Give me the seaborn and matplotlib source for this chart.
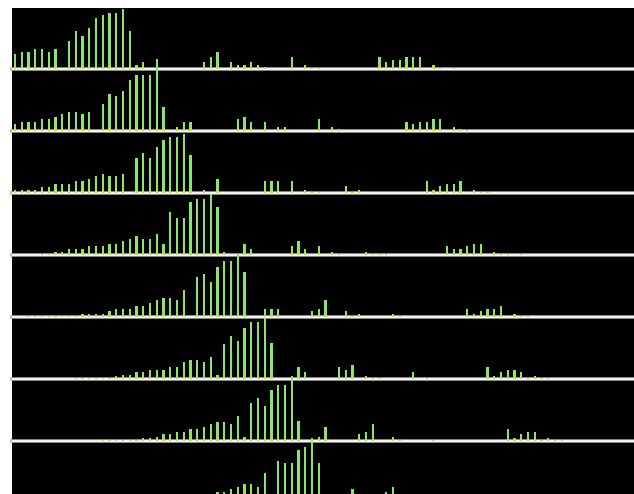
import numpy as np
import pandas as pd
import seaborn as sns
import matplotlib.pyplot as plt

# bin index -> stem height (px-like units), one pair of lists per row
row1_bins = [0, 1, 2, 3, 4, 5, 6, 8, 9, 10, 11, 12, 13, 14, 15, 16, 17, 18, 19, 28, 29, 30, 32, 33, 34, 35, 36, 37,
             41, 43, 44, 45, 54, 55, 56, 57, 58, 59, 60, 62, 63, 65]
row1_heights = [15, 17, 17, 20, 20, 17, 20, 28, 38, 33, 41, 51, 54, 56, 56, 60, 38, 4, 7, 7, 12, 17, 7, 4, 4, 7, 4, 2,
                12, 4, 1, 1, 12, 7, 9, 9, 12, 12, 12, 4, 1, 1]

row2_bins = [0, 1, 2, 3, 4, 5, 6, 7, 8, 9, 10, 11, 13, 14, 15, 16, 17, 18, 19, 20, 21, 22, 24, 25, 26, 33, 34, 35, 37,
             39, 40, 45, 47, 48, 58, 59, 60, 61, 62, 63, 65, 66, 67]
row2_heights = [7, 9, 9, 9, 12, 12, 14, 17, 19, 19, 17, 19, 27, 37, 35, 40, 51, 56, 56, 56, 72, 24, 4, 9, 9, 12, 14, 9, 9,
                4, 4, 12, 4, 2, 9, 7, 9, 9, 12, 12, 4, 2, 1]

row3_bins = [0, 1, 2, 3, 4, 5, 6, 7, 8, 9, 10, 11, 12, 13, 14, 15, 16, 18, 19, 20, 21, 22, 23, 24, 25, 26, 28, 30, 37,
             38, 39, 41, 43, 44, 45, 49, 50, 51, 61, 62, 63, 64, 65, 66, 68, 69, 70]
row3_heights = [3, 3, 3, 3, 6, 6, 9, 9, 9, 12, 12, 14, 17, 19, 17, 17, 19, 35, 40, 35, 46, 53, 56, 56, 59, 38, 3, 14, 12,
                12, 12, 12, 3, 1, 1, 7, 1, 3, 12, 3, 7, 9, 9, 12, 3, 1, 1]

row4_bins = [4, 5, 6, 7, 8, 9, 10, 11, 12, 13, 14, 15, 16, 17, 18, 19, 20, 21, 22, 23, 24, 25, 26, 27, 28, 29, 30, 31,
             34, 35, 41, 42, 43, 45, 47, 48, 52, 53, 54, 55, 64, 65, 66, 67, 68, 69, 71, 72, 73, 75]
row4_heights = [1, 1, 3, 3, 6, 6, 6, 9, 9, 9, 11, 11, 14, 16, 19, 16, 16, 21, 11, 43, 37, 37, 53, 56, 56, 61, 48, 3,
                11, 6, 9, 14, 6, 9, 3, 1, 3, 1, 1, 1, 9, 6, 6, 9, 11, 11, 3, 1, 1, 1]

row5_bins = [2, 3, 4, 5, 6, 7, 8, 9, 10, 11, 12, 13, 14, 15, 16, 17, 18, 19, 20, 21, 22, 23, 24, 25, 27, 28, 29, 30, 31,
             32, 33, 34, 37, 38, 39, 44, 45, 46, 49, 50, 51, 56, 57, 67, 68, 69, 70, 71, 72, 74, 75, 76]
row5_heights = [1, 1, 1, 1, 1, 1, 1, 1, 3, 3, 3, 3, 6, 8, 8, 8, 11, 11, 14, 17, 19, 19, 17, 27, 40, 43, 35, 50, 56,
                56, 63, 45, 8, 8, 8, 6, 8, 17, 6, 1, 3, 3, 1, 8, 3, 6, 8, 8, 11, 3, 1, 1]

row6_bins = [9, 10, 11, 12, 13, 14, 15, 16, 17, 18, 19, 20, 21, 22, 23, 24, 25, 26, 27, 28, 29, 30, 31, 32, 33, 34, 35,
             36, 37, 38, 41, 42, 43, 48, 49, 50, 52, 53, 54, 59, 61, 70, 71, 72, 73, 74, 75, 76, 77, 78, 79]
row6_heights = [1, 1, 1, 1, 1, 1, 3, 4, 4, 7, 7, 9, 9, 9, 12, 12, 17, 19, 19, 17, 22, 4, 35, 43, 38, 51, 57, 57, 61, 36,
                3, 12, 7, 12, 9, 14, 3, 1, 1, 7, 1, 12, 3, 7, 9, 9, 7, 1, 3, 1, 1]

row7_bins = [13, 14, 15, 16, 17, 18, 19, 20, 21, 22, 23, 24, 25, 26, 27, 28, 29, 30, 31, 32, 33, 34, 35, 36, 37, 38,
             39, 40, 41, 42, 44, 45, 46, 51, 52, 53, 56, 57, 62, 73, 74, 75, 76, 77, 78, 79, 80, 81]
row7_heights = [1, 1, 1, 1, 1, 1, 3, 3, 4, 7, 7, 9, 9, 12, 12, 14, 17, 19, 19, 17, 25, 4, 38, 43, 35, 51, 56, 56, 63,
                20, 3, 4, 14, 7, 9, 17, 4, 1, 1, 12, 3, 7, 9, 9, 1, 3, 1, 1]

row8_bins = [22, 23, 24, 25, 26, 27, 28, 29, 30, 31, 32, 33, 34, 35, 36, 37, 38, 39, 40, 41, 42, 43, 44, 45, 50, 55, 56]
row8_heights = [2, 3, 4, 5, 6, 7, 8, 9, 11, 11, 14, 16, 19, 19, 16, 30, 4, 42, 40, 40, 53, 56, 63, 40, 14, 11, 16]

rows = [(row1_bins, row1_heights), (row2_bins, row2_heights), (row3_bins, row3_heights),
        (row4_bins, row4_heights), (row5_bins, row5_heights), (row6_bins, row6_heights),
        (row7_bins, row7_heights), (row8_bins, row8_heights)]

n_bins = 92
W, H = 634, 494
left_px, top_px = 12, 8
first_base_px, row_px = 69, 62
bin0_px, bin_step_px = 15, 6.75

sns.set_style('dark')
fig = plt.figure(figsize=(W / 100, H / 100), dpi=100)
fig.patch.set_facecolor('white')

# black backdrop
bg = fig.add_axes([left_px / W, 0, 1 - left_px / W, 1 - top_px / H])
bg.set_facecolor('black')
bg.set_xticks([])
bg.set_yticks([])
for s in bg.spines.values():
    s.set_visible(False)

xmin = (left_px - bin0_px) / bin_step_px
xmax = (W - bin0_px) / bin_step_px

for r, (bins, vals) in enumerate(rows):
    base_px = first_base_px + r * row_px
    ax = fig.add_axes([left_px / W, 1 - base_px / H, 1 - left_px / W, row_px / H])
    ax.patch.set_alpha(0)

    h = np.zeros(n_bins)
    h[bins] = vals
    df = pd.DataFrame({'bin': np.arange(n_bins), 'h': h, 'tip': np.minimum(h, 2.5)})

    # white baseline with grey rim
    ax.axhline(0, color='#8c8c8c', lw=2.8, clip_on=False, zorder=1)
    ax.axhline(0, color='#f2f2f2', lw=1.5, clip_on=False, zorder=1)

    sns.barplot(data=df, x='bin', y='h', native_scale=True, width=0.3, color='#88e66a',
                saturation=1, linewidth=0, errorbar=None, ax=ax, zorder=2)
    sns.barplot(data=df, x='bin', y='tip', native_scale=True, width=0.3, color='#c8e818',
                saturation=1, linewidth=0, errorbar=None, ax=ax, zorder=3)
    for p in ax.patches:
        p.set_clip_on(False)

    ax.set_xlim(xmin, xmax)
    ax.set_ylim(0, row_px)
    ax.axis('off')

plt.savefig('out.png', dpi=100, facecolor='white')
